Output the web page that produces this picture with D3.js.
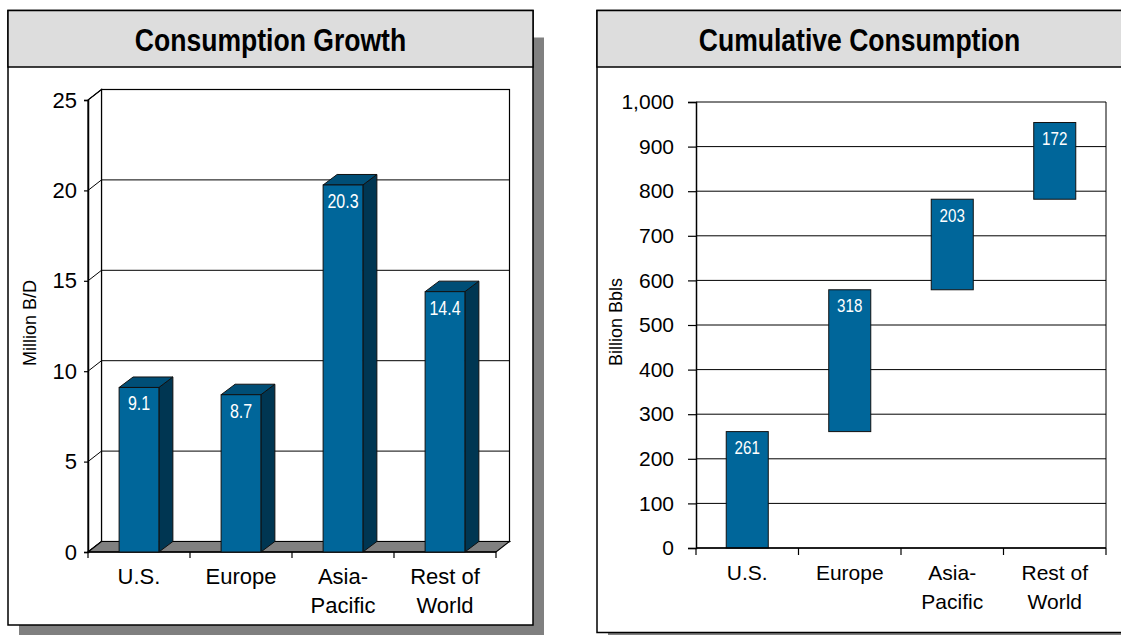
<!DOCTYPE html>
<html><head><meta charset="utf-8">
<script src="https://cdn.jsdelivr.net/npm/d3@7"></script>
<style>body{margin:0;background:#fff;} svg{display:block}</style>
</head><body>
<svg id="c" width="1121" height="635"></svg>
<script>
// ---- data ----
const categories = ["U.S.", "Europe", "Asia-\nPacific", "Rest of\nWorld"];
const growthValues = [9.1, 8.7, 20.3, 14.4];
const growthTicks = [0, 5, 10, 15, 20, 25];
const cumulativeValues = [261, 318, 203, 172];
const cumulativeTicks = [0, 100, 200, 300, 400, 500, 600, 700, 800, 900, 1000];
const growthTitle = "Consumption Growth";
const cumulativeTitle = "Cumulative Consumption";
const growthAxisLabel = "Million B/D";
const cumulativeAxisLabel = "Billion Bbls";

// ---- style ----
const FONT = "'Liberation Sans', Arial, Helvetica, sans-serif";
const NARROW_SCALE = 0.82;
const FRONT = "#00669a", SIDE = "#003652", TOP = "#004e76", FLOOR = "#808080";

const svg = d3.select("#c");

// condensed text: regular font squeezed horizontally
function narrowText(g, cx, y, size, txt, opts = {}) {
  return g.append("text")
    .attr("transform", `translate(${cx},${y}) scale(${opts.scale || NARROW_SCALE},1)`)
    .attr("text-anchor", "middle")
    .attr("font-family", FONT).attr("font-size", size)
    .attr("font-weight", opts.bold ? "bold" : "normal")
    .attr("fill", opts.fill || "#000").text(txt);
}

function panel(x, y, w, h, title) {
  svg.append("rect").attr("x", x + 11).attr("y", y + 27).attr("width", w).attr("height", h)
    .attr("fill", "#808080");
  svg.append("rect").attr("x", x).attr("y", y).attr("width", w).attr("height", h)
    .attr("fill", "#fff").attr("stroke", "#000").attr("stroke-width", 1.5);
  svg.append("rect").attr("x", x).attr("y", y).attr("width", w).attr("height", 56.5)
    .attr("fill", "#dddddd").attr("stroke", "#000").attr("stroke-width", 1.5);
  narrowText(svg, x + w / 2, y + 40.5, 32, title, { bold: true, scale: 0.83 });
}

panel(8, 10.5, 525, 614.5, growthTitle);
panel(597, 10.5, 525, 622, cumulativeTitle);

function catLabels(g, xs, baseY, size) {
  categories.forEach(c => {
    const lines = c.split("\n");
    const t = g.append("text").attr("text-anchor", "middle")
      .attr("font-family", FONT).attr("font-size", size).attr("fill", "#000");
    lines.forEach((l, i) => {
      t.append("tspan").attr("x", xs(c) + xs.bandwidth() / 2).attr("y", baseY + i * 29).text(l);
    });
  });
}

// ================= Left: 3D columns =================
(function () {
  const g = svg.append("g");
  const x = d3.scaleBand().domain(categories).range([88, 496]).padding(0);
  const y = d3.scaleLinear().domain([0, 25]).range([552, 100]);
  const dx = 13.5, dy = -10.5;
  const x0 = x.range()[0], x1 = x.range()[1];
  const yTop = y(d3.max(growthTicks)), yBot = y(0);

  // back wall
  g.append("rect").attr("x", x0 + dx).attr("y", yTop + dy).attr("width", x1 - x0)
    .attr("height", yBot - yTop).attr("fill", "#fff").attr("stroke", "#000").attr("stroke-width", 1.2);
  g.selectAll(".bg").data(growthTicks).join("line")
    .attr("x1", x0 + dx).attr("x2", x1 + dx)
    .attr("y1", d => y(d) + dy).attr("y2", d => y(d) + dy)
    .attr("stroke", "#000").attr("stroke-width", 1);
  // left wall
  g.append("path").attr("d", `M${x0},${yTop}L${x0 + dx},${yTop + dy}L${x0 + dx},${yBot + dy}L${x0},${yBot}Z`)
    .attr("fill", "#fff").attr("stroke", "#000").attr("stroke-width", 1.2);
  g.selectAll(".lg").data(growthTicks).join("line")
    .attr("x1", x0).attr("x2", x0 + dx)
    .attr("y1", d => y(d)).attr("y2", d => y(d) + dy)
    .attr("stroke", "#000").attr("stroke-width", 1);
  // floor
  g.append("path").attr("d", `M${x0},${yBot}L${x0 + dx},${yBot + dy}L${x1 + dx},${yBot + dy}L${x1},${yBot}Z`)
    .attr("fill", FLOOR).attr("stroke", "#000").attr("stroke-width", 1.2);

  // y axis (front)
  const ya = d3.axisLeft(y).tickValues(growthTicks).tickSize(4).tickPadding(7).tickFormat(d3.format("d"));
  const yg = g.append("g").attr("transform", `translate(${x0},0)`).call(ya);
  yg.select(".domain").attr("stroke", "#000").attr("stroke-width", 1.5);
  yg.selectAll(".tick line").attr("stroke", "#000").attr("stroke-width", 1.2);
  yg.selectAll(".tick text").attr("font-family", FONT).attr("font-size", 22).attr("fill", "#000");

  // x axis (front)
  g.append("line").attr("x1", x0).attr("x2", x1).attr("y1", yBot).attr("y2", yBot)
    .attr("stroke", "#000").attr("stroke-width", 1.5);
  const bounds = categories.map(c => x(c)).concat([x1]);
  g.selectAll(".xt").data(bounds).join("line")
    .attr("x1", d => d).attr("x2", d => d).attr("y1", yBot).attr("y2", yBot + 6)
    .attr("stroke", "#000").attr("stroke-width", 1.2);
  catLabels(g, x, 584, 22);

  // bars
  const bw = x.bandwidth() * 0.39;
  const bdx = 14, bdy = -10.5;
  categories.forEach((c, i) => {
    const v = growthValues[i];
    const bx = x(c) + (x.bandwidth() - bw) / 2;
    const top = y(v);
    g.append("path").attr("d", `M${bx + bw},${top}L${bx + bw + bdx},${top + bdy}L${bx + bw + bdx},${yBot + bdy}L${bx + bw},${yBot}Z`)
      .attr("fill", SIDE).attr("stroke", "#111").attr("stroke-width", 1);
    g.append("path").attr("d", `M${bx},${top}L${bx + bdx},${top + bdy}L${bx + bw + bdx},${top + bdy}L${bx + bw},${top}Z`)
      .attr("fill", TOP).attr("stroke", "#111").attr("stroke-width", 1);
    g.append("rect").attr("x", bx).attr("y", top).attr("width", bw).attr("height", yBot - top)
      .attr("fill", FRONT).attr("stroke", "#111").attr("stroke-width", 1);
    narrowText(g, bx + bw / 2, top + 23, 19.5, d3.format(".1f")(v), { fill: "#fff" });
  });

  // axis title
  g.append("text").attr("transform", `translate(36,${323}) rotate(-90)`).attr("text-anchor", "middle")
    .attr("font-family", FONT).attr("font-size", 18).attr("fill", "#000").text(growthAxisLabel);
})();

// ================= Right: floating waterfall =================
(function () {
  const g = svg.append("g");
  const x = d3.scaleBand().domain(categories).range([696, 1106]).padding(0);
  const y = d3.scaleLinear().domain([0, 1000]).range([548, 102]);
  const x0 = x.range()[0], x1 = x.range()[1];

  // gridlines
  g.selectAll(".gl").data(cumulativeTicks).join("line")
    .attr("x1", x0).attr("x2", x1).attr("y1", d => y(d)).attr("y2", d => y(d))
    .attr("stroke", "#000").attr("stroke-width", 1);
  g.append("line").attr("x1", x1).attr("x2", x1).attr("y1", y(1000)).attr("y2", y(0))
    .attr("stroke", "#000").attr("stroke-width", 1);

  // bars (floating, starting at the running total)
  let start = 0;
  const bw = x.bandwidth() * 0.41;
  categories.forEach((c, i) => {
    const v = cumulativeValues[i];
    const bx = x(c) + (x.bandwidth() - bw) / 2;
    const top = y(start + v), bot = y(start);
    g.append("rect").attr("x", bx).attr("y", top).attr("width", bw).attr("height", bot - top)
      .attr("fill", FRONT).attr("stroke", "#111").attr("stroke-width", 1);
    narrowText(g, bx + bw / 2, top + 22.5, 18.5, v, { fill: "#fff" });
    start += v;
  });

  // y axis
  const ya = d3.axisLeft(y).tickValues(cumulativeTicks).tickSize(8).tickPadding(14).tickFormat(d3.format(","));
  const yg = g.append("g").attr("transform", `translate(${x0},0)`).call(ya);
  yg.select(".domain").attr("stroke", "#000").attr("stroke-width", 1.5);
  yg.selectAll(".tick line").attr("stroke", "#000").attr("stroke-width", 1.2);
  yg.selectAll(".tick text").attr("font-family", FONT).attr("font-size", 21).attr("fill", "#000");

  // x axis
  g.append("line").attr("x1", x0).attr("x2", x1).attr("y1", y(0)).attr("y2", y(0))
    .attr("stroke", "#000").attr("stroke-width", 1.5);
  const bounds = categories.map(c => x(c)).concat([x1]);
  g.selectAll(".xt").data(bounds).join("line")
    .attr("x1", d => d).attr("x2", d => d).attr("y1", y(0)).attr("y2", y(0) + 7)
    .attr("stroke", "#000").attr("stroke-width", 1.2);
  catLabels(g, x, 580, 21);

  g.append("text").attr("transform", `translate(622,${322}) rotate(-90)`).attr("text-anchor", "middle")
    .attr("font-family", FONT).attr("font-size", 18).attr("fill", "#000").text(cumulativeAxisLabel);
})();
</script>
</body></html>
